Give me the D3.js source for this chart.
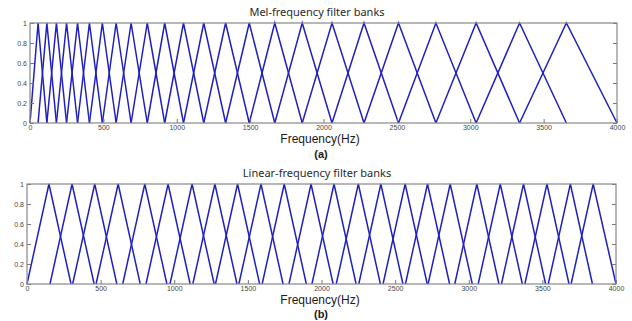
<!DOCTYPE html>
<html>
<head>
<meta charset="utf-8">
<script src="https://cdn.jsdelivr.net/npm/d3@7"></script>
<style>
  body { margin: 0; background: #fff; }
  svg { display: block; }
</style>
</head>
<body>
<div id="chart"></div>
<script>
// mel bank: filter k rises from edge k-1, peaks at edge k, falls to edge k+1 (Hz)
const melEdges = [0, 55, 115, 180, 249, 324, 405, 493, 587, 689, 799, 918, 1046,
  1184, 1333, 1494, 1668, 1855, 2058, 2276, 2511, 2766, 3040, 3336, 3655, 4000];

// linear bank: start / peak / end of every triangle (Hz)
const linStart = [0, 156, 310, 469, 650, 808, 971, 1126, 1280, 1439, 1597, 1779,
  1935, 2100, 2253, 2418, 2570, 2724, 2905, 3064, 3222, 3381, 3540, 3695];
const linPeak = [149, 306, 460, 619, 800, 958, 1121, 1276, 1430, 1589, 1747, 1929,
  2085, 2250, 2403, 2568, 2720, 2874, 3055, 3214, 3372, 3531, 3690, 3845];
const linEnd = [299, 456, 610, 769, 950, 1108, 1271, 1426, 1580, 1739, 1897, 2079,
  2235, 2400, 2553, 2718, 2870, 3024, 3205, 3364, 3522, 3681, 3840, 4000];

const xTicks = [0, 500, 1000, 1500, 2000, 2500, 3000, 3500, 4000];
const yTicks = [0, 0.2, 0.4, 0.6, 0.8, 1];
const titles = ['Mel-frequency filter banks', 'Linear-frequency filter banks'];
const xLabel = 'Frequency(Hz)';
const captions = ['(a)', '(b)'];

const melFilters = d3.range(1, melEdges.length - 1)
  .map(k => [melEdges[k - 1], melEdges[k], melEdges[k + 1]]);
const linFilters = linPeak.map((p, i) => [linStart[i], p, linEnd[i]]);

const svg = d3.select('#chart')
  .append('svg')
  .attr('width', 632)
  .attr('height', 321);

drawPanel({ left: 30, right: 617, top: 23, bottom: 123, titleY: 16, labelY: 143, captionY: 158 },
  titles[0], captions[0], melFilters);
drawPanel({ left: 27, right: 616, top: 184, bottom: 284, titleY: 177, labelY: 304, captionY: 318 },
  titles[1], captions[1], linFilters);

function drawPanel(box, title, caption, filters) {
  const x = d3.scaleLinear().domain([0, 4000]).range([box.left, box.right]);
  const y = d3.scaleLinear().domain([0, 1]).range([box.bottom, box.top]);
  const fmt = d3.format('~g');
  const g = svg.append('g');

  const line = d3.line()
    .x(d => x(d[0]))
    .y(d => y(d[1]));

  g.selectAll('path.filter')
    .data(filters)
    .enter()
    .append('path')
    .attr('class', 'filter')
    .attr('d', f => line([[f[0], 0], [f[1], 1], [f[2], 0]]))
    .attr('fill', 'none')
    .attr('stroke', '#2020c0')
    .attr('stroke-width', 1.5);

  // inward ticks, matlab style
  const bottomAxis = g.append('g')
    .attr('transform', `translate(0,${box.bottom})`)
    .call(d3.axisBottom(x).tickValues(xTicks).tickSizeInner(-4).tickSizeOuter(0).tickPadding(2).tickFormat(fmt));
  const leftAxis = g.append('g')
    .attr('transform', `translate(${box.left},0)`)
    .call(d3.axisLeft(y).tickValues(yTicks).tickSizeInner(-4).tickSizeOuter(0).tickPadding(3).tickFormat(fmt));
  const rightAxis = g.append('g')
    .attr('transform', `translate(${box.right},0)`)
    .call(d3.axisRight(y).tickValues(yTicks).tickSizeInner(-4).tickSizeOuter(0).tickFormat(''));

  [bottomAxis, leftAxis, rightAxis].forEach(a => {
    a.select('.domain').remove();
    a.selectAll('line').attr('stroke', '#777');
    a.selectAll('text')
      .attr('fill', '#444')
      .style('font-family', 'Liberation Sans, Arial, sans-serif')
      .style('font-size', '7px');
  });

  g.append('rect')
    .attr('x', box.left)
    .attr('y', box.top)
    .attr('width', box.right - box.left)
    .attr('height', box.bottom - box.top)
    .attr('fill', 'none')
    .attr('stroke', '#888')
    .attr('stroke-width', 1.2);

  g.append('text')
    .attr('x', 317)
    .attr('y', box.titleY)
    .attr('text-anchor', 'middle')
    .attr('fill', '#2a2a2a')
    .style('font-family', 'Noto Sans, sans-serif')
    .style('font-size', '11px')
    .text(title);

  g.append('text')
    .attr('x', 320)
    .attr('y', box.labelY)
    .attr('text-anchor', 'middle')
    .attr('fill', '#1a1a1a')
    .style('font-family', 'Liberation Sans, Arial, sans-serif')
    .style('font-size', '12px')
    .text(xLabel);

  g.append('text')
    .attr('x', 321)
    .attr('y', box.captionY)
    .attr('text-anchor', 'middle')
    .attr('fill', '#1a1a1a')
    .style('font-family', 'Liberation Sans, Arial, sans-serif')
    .style('font-size', '11px')
    .style('font-weight', 'bold')
    .text(caption);
}
</script>
</body>
</html>
